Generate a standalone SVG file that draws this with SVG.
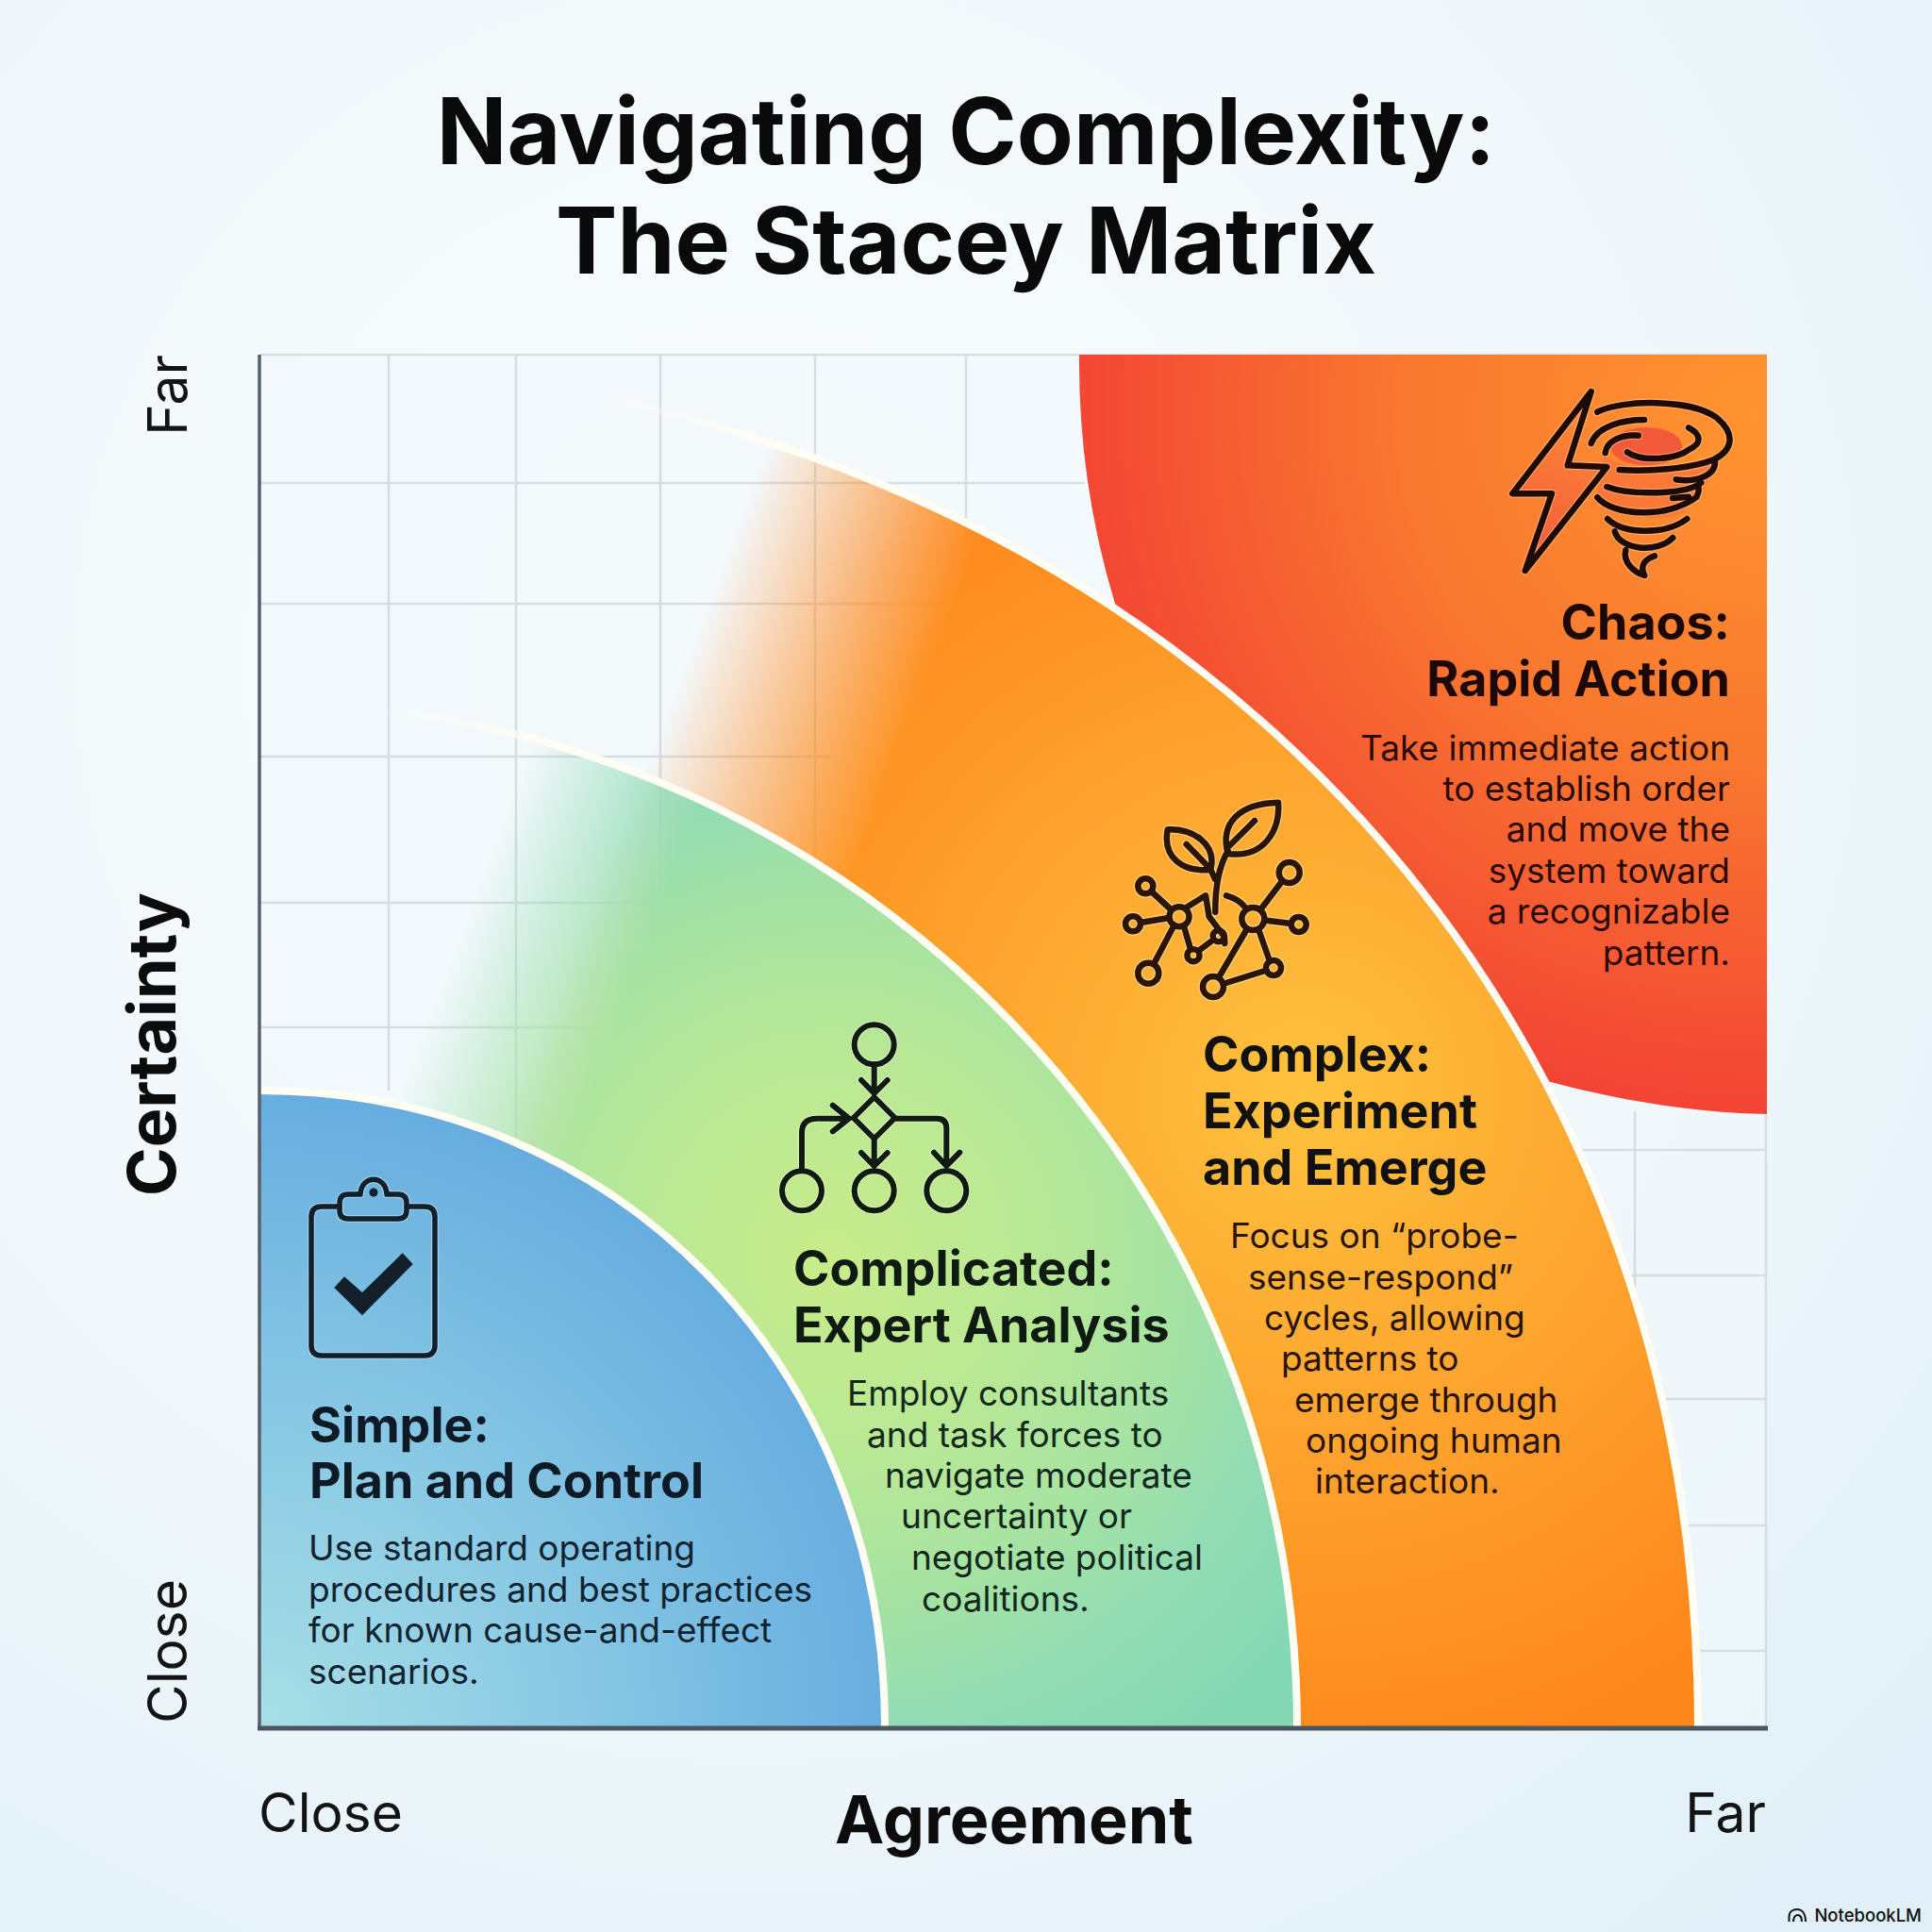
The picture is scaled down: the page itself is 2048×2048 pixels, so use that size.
<svg xmlns="http://www.w3.org/2000/svg" width="2048" height="2048" viewBox="0 0 2048 2048">
<style>
text{font-family:Inter,"Liberation Sans",sans-serif}
.title{font-size:98px;font-weight:700;fill:#0a0a0a;text-anchor:middle}
.axb{font-size:70px;font-weight:700;fill:#0c0c0c}
.axr{font-size:57px;font-weight:400;fill:#141414}
.h{font-size:52px;font-weight:700}
.b{font-size:37px;font-weight:400}
.grid{stroke:#d6dde4;stroke-width:2.5;fill:none}
.ic{fill:none;stroke-linecap:round;stroke-linejoin:round}
</style>
<defs>
<radialGradient id="bg" gradientUnits="userSpaceOnUse" cx="800" cy="700" r="1750"><stop offset="0" stop-color="#f9fcfd"/><stop offset=".55" stop-color="#f1f8fb"/><stop offset="1" stop-color="#e0eff8"/></radialGradient>
<radialGradient id="blue" gradientUnits="userSpaceOnUse" cx="275" cy="1832" r="680"><stop offset="0" stop-color="#a8dfe6"/><stop offset=".5" stop-color="#88c8e4"/><stop offset="1" stop-color="#66acdf"/></radialGradient>
<radialGradient id="green" gradientUnits="userSpaceOnUse" cx="880" cy="1330" r="640"><stop offset="0" stop-color="#c8ec8a"/><stop offset=".35" stop-color="#b8e896"/><stop offset=".6" stop-color="#a4e2a4"/><stop offset=".78" stop-color="#92dcb4"/><stop offset="1" stop-color="#84d8b4"/></radialGradient>
<radialGradient id="orange" gradientUnits="userSpaceOnUse" cx="1380" cy="1160" r="720"><stop offset="0" stop-color="#fdc23e"/><stop offset=".45" stop-color="#fea730"/><stop offset="1" stop-color="#fe871c"/></radialGradient>
<radialGradient id="red" gradientUnits="userSpaceOnUse" cx="1860" cy="440" r="740"><stop offset="0" stop-color="#ff9430"/><stop offset=".5" stop-color="#f9782f"/><stop offset="1" stop-color="#f34335"/></radialGradient>
<linearGradient id="fo" gradientUnits="userSpaceOnUse" x1="805" y1="492" x2="1035" y2="579"><stop offset="0" stop-color="#fff" stop-opacity="0"/><stop offset="1" stop-color="#fff"/></linearGradient>
<linearGradient id="fg" gradientUnits="userSpaceOnUse" x1="553" y1="819" x2="728" y2="885"><stop offset="0" stop-color="#fff" stop-opacity="0"/><stop offset="1" stop-color="#fff"/></linearGradient>
<linearGradient id="so" gradientUnits="userSpaceOnUse" x1="640" y1="0" x2="820" y2="0"><stop offset="0" stop-color="#fffdf4" stop-opacity="0"/><stop offset="1" stop-color="#fffdf4"/></linearGradient>
<linearGradient id="sg" gradientUnits="userSpaceOnUse" x1="400" y1="0" x2="600" y2="0"><stop offset="0" stop-color="#fffdf4" stop-opacity="0"/><stop offset="1" stop-color="#fffdf4"/></linearGradient>
<linearGradient id="bolt" gradientUnits="userSpaceOnUse" x1="1680" y1="450" x2="1625" y2="590"><stop offset="0" stop-color="#fb8636"/><stop offset="1" stop-color="#f4593a"/></linearGradient>
<mask id="mo" maskUnits="userSpaceOnUse" x="0" y="0" width="2048" height="2048"><rect width="2048" height="2048" fill="url(#fo)"/></mask>
<mask id="mg" maskUnits="userSpaceOnUse" x="0" y="0" width="2048" height="2048"><rect width="2048" height="2048" fill="url(#fg)"/></mask>
<g id="s-clip"><path d="M360,1279 H341 Q330,1279 330,1290 V1426 Q330,1437 341,1437 H450 Q461,1437 461,1426 V1290 Q461,1279 450,1279 H431"/><path d="M369,1266 H382 C383,1245 409,1245 410,1266 H422 Q431,1266 431,1275 V1283 Q431,1292 422,1292 H369 Q360,1292 360,1283 V1275 Q360,1266 369,1266 Z"/></g>
<g id="s-flow"><circle cx="926.7" cy="1107.3" r="21"/><path d="M926.7,1128 V1159 M913,1145 L926.7,1159 L940.7,1145"/><path d="M926.7,1163 L948.7,1185 L926.7,1207 L904.7,1185 Z"/><circle cx="850" cy="1262.3" r="21"/><path d="M850,1241 V1201 Q850,1185.7 866,1185.7 H900 M882.7,1171.7 L900,1185.7 L882.7,1199.3"/><circle cx="926.7" cy="1262.3" r="21"/><path d="M926.7,1207 V1236 M913,1222 L926.7,1236 L940.7,1222"/><circle cx="1003.3" cy="1262.3" r="21"/><path d="M949,1185.7 H993 Q1003.3,1185.7 1003.3,1196 V1236 M990,1221.7 L1003.3,1236 L1017.3,1221.7"/></g>
<g id="s-plant"><path d="M1301.7,905 C1293,873 1313,851.7 1355,850.7 C1357,880 1340,910 1301.7,905 Z"/><path d="M1330,870 L1301.7,898 M1301.7,902 Q1288,925 1288.3,966.7"/><path d="M1237.7,879.3 C1265,878 1290,895 1283.3,921.7 C1255,925 1232,910 1237.7,879.3 Z"/><path d="M1257.7,895 L1283,921 L1288,932"/>
<circle cx="1250" cy="971.7" r="10.5"/><circle cx="1214.3" cy="939.3" r="8"/><circle cx="1201" cy="979.3" r="8"/><circle cx="1217.3" cy="1031.7" r="11"/><circle cx="1265" cy="1012.7" r="6.5"/><circle cx="1291.7" cy="992.3" r="6"/>
<path d="M1240,963 L1220.5,945 M1239,973 L1209,978 M1244,982 L1223,1022 M1255,982 L1262,1006 M1270.5,1008 L1286.5,996 M1258,961.7 L1278,949.3 L1281.7,971.7 L1298,993 L1298.3,1000"/>
<circle cx="1328.3" cy="974" r="12"/><circle cx="1366.7" cy="925" r="11"/><circle cx="1376.7" cy="980" r="8"/><circle cx="1350" cy="1026" r="8"/><circle cx="1286" cy="1046" r="11"/>
<path d="M1336,964.5 L1359.5,933.5 M1340.5,975.5 L1368.5,979 M1334,985 L1346,1019 M1322,984.5 L1292,1036 M1296.5,1043 L1342.5,1028.5 M1300,949.3 Q1313,953 1320,961.7"/></g>
<g id="s-storm"><path d="M1686.7,415 L1603.3,523.3 L1645,523.3 L1616.7,605 L1703.3,495 L1661.7,493.3 Z"/>
<path d="M1693.3,436.7 C1720,423 1793,423 1820,443 C1840,460 1837,477 1817,487 C1793,497 1747,500 1716.7,498"/>
<path d="M1818,490 C1818,503 1800,512 1776.7,508.3"/>
<path d="M1686.7,470 C1693,452 1720,445 1743,445"/>
<path d="M1701.7,480 C1703,467 1720,460 1736.7,461.7"/>
<path d="M1790,453.3 C1803,460 1805,470 1790,476.7 C1777,487 1740,490 1725,479.3"/>
<path d="M1703.3,516 C1727,525 1787,525 1803.3,511.7"/>
<path d="M1693.3,527.3 C1710,547 1767,550 1798.3,527 Q1802,520 1800,515"/>
<path d="M1773,528 L1790,526.7"/>
<path d="M1704,550 C1720,567 1767,567 1788.3,550"/>
<path d="M1711.7,563.3 C1717,583 1757,587 1773.3,570"/>
<path d="M1723.3,583 C1720,597 1733,607 1743.3,610 C1738,600 1743,593 1754,589.3"/></g>
</defs>

<rect width="2048" height="2048" fill="url(#bg)"/>

<g id="grid">
<rect x="275" y="376" width="1597" height="1456" fill="#f2f9fc" fill-opacity=".6"/>
<path class="grid" d="M275,376 H1872 V1832 M412,376 V1156 M547,376 V1210 M700,376 V1000 M864,376 V1000 M1024,376 V760 M1733,1178 V1379"/>
<path class="grid" d="M275,512 H1150 M275,640 H1180 M275,802 H880 M275,957 H720 M275,1089 H640 M1640,1219 H1872 M1700,1352 H1872 M1750,1483 H1872 M1780,1617 H1872 M1790,1750 H1872"/>
</g>

<g id="chaos-region"><path d="M1144,376 H1873 V1181 C1790,1179 1710,1165 1640,1146 C1450,1000 1300,800 1182,640 A729,805 0 0 1 1144,376 Z" fill="url(#red)"/></g>
<g id="complex-region">
<path mask="url(#mo)" fill="url(#orange)" d="M275,385 C1114,385 1800,950 1800,1832 H275 Z"/>
<path d="M275,385 C1114,385 1800,950 1800,1832" fill="none" stroke="url(#so)" stroke-width="8"/>
</g>
<g id="complicated-region">
<path mask="url(#mg)" fill="url(#green)" d="M275,745 C880,745 1375,1231 1375,1832 H275 Z"/>
<path d="M275,745 C880,745 1375,1231 1375,1832" fill="none" stroke="url(#sg)" stroke-width="8"/>
</g>
<g id="simple-region"><path d="M275,1156 C653,1156 938,1447 938,1832 H275 Z" fill="url(#blue)"/><path d="M275,1156 C653,1156 938,1447 938,1832" fill="none" stroke="#fffdf4" stroke-width="8"/></g>

<g id="axes"><path d="M275,376 V1832" stroke="#56616c" stroke-width="3.5" fill="none"/><path d="M273,1832 H1874" stroke="#4a5560" stroke-width="5" fill="none"/></g>

<g id="node-chaos">
<ellipse cx="1745" cy="473" rx="38" ry="20" fill="#f25a3a"/>
<path d="M1700,485 C1740,502 1790,500 1815,490 C1815,505 1800,540 1770,548 C1740,552 1710,540 1693,527 Z" fill="#f9703a" opacity=".7"/>
<path d="M1686.7,415 L1603.3,523.3 L1645,523.3 L1616.7,605 L1703.3,495 L1661.7,493.3 Z" fill="url(#bolt)"/>
<use href="#s-storm" class="ic" stroke="#ffd9a8" stroke-opacity=".45" stroke-width="9"/>
<use href="#s-storm" class="ic" stroke="#1e0b06" stroke-width="6.5"/>
<g fill="#1c0906"><text class="h" x="1834" y="678" text-anchor="end">Chaos:</text><text class="h" x="1834" y="738" text-anchor="end">Rapid Action</text></g>
<g fill="#2a0b06" text-anchor="end"><text class="b" x="1834" y="806">Take immediate action</text><text class="b" x="1834" y="849">to establish order</text><text class="b" x="1834" y="892">and move the</text><text class="b" x="1834" y="936">system toward</text><text class="b" x="1834" y="979">a recognizable</text><text class="b" x="1834" y="1023">pattern.</text></g>
</g>

<g id="node-complex">
<use href="#s-plant" class="ic" stroke="#fff0cc" stroke-opacity=".5" stroke-width="9"/>
<use href="#s-plant" class="ic" stroke="#2a1508" stroke-width="6.5"/>
<g fill="#111"><text class="h" x="1275" y="1136">Complex:</text><text class="h" x="1275" y="1196">Experiment</text><text class="h" x="1275" y="1256">and Emerge</text></g>
<g fill="#2a1408"><text class="b" x="1304" y="1323">Focus on “probe-</text><text class="b" x="1323" y="1367">sense-respond”</text><text class="b" x="1340" y="1410">cycles, allowing</text><text class="b" x="1358" y="1453">patterns to</text><text class="b" x="1372" y="1497">emerge through</text><text class="b" x="1384" y="1540">ongoing human</text><text class="b" x="1394" y="1583">interaction.</text></g>
</g>

<g id="node-complicated">
<use href="#s-flow" class="ic" stroke="#f4fbd8" stroke-opacity=".6" stroke-width="8"/>
<use href="#s-flow" class="ic" stroke="#0e1a12" stroke-width="6"/>
<g fill="#0e1a12"><text class="h" x="841" y="1363">Complicated:</text><text class="h" x="841" y="1423">Expert Analysis</text></g>
<g fill="#13281c"><text class="b" x="898" y="1490">Employ consultants</text><text class="b" x="919" y="1534">and task forces to</text><text class="b" x="938" y="1577">navigate moderate</text><text class="b" x="955" y="1620">uncertainty or</text><text class="b" x="966" y="1664">negotiate political</text><text class="b" x="977" y="1708">coalitions.</text></g>
</g>

<g id="node-simple">
<use href="#s-clip" class="ic" stroke="#c8e8f2" stroke-opacity=".5" stroke-width="8"/>
<use href="#s-clip" class="ic" stroke="#13202c" stroke-width="5.5"/>
<circle cx="396" cy="1264" r="4.5" fill="#13202c"/>
<path d="M354.3,1365 L365,1353.3 L384,1370 L426.7,1328.3 L437.7,1340 L384,1394.3 Z" fill="#13202c"/>
<g fill="#0e1a26"><text class="h" x="328" y="1529">Simple:</text><text class="h" x="328" y="1588">Plan and Control</text></g>
<g fill="#10232f"><text class="b" x="327" y="1654">Use standard operating</text><text class="b" x="327" y="1698">procedures and best practices</text><text class="b" x="327" y="1741">for known cause-and-effect</text><text class="b" x="327" y="1785">scenarios.</text></g>
</g>

<g id="title"><text class="title" x="1024" y="174">Navigating Complexity:</text><text class="title" x="1024" y="290">The Stacey Matrix</text></g>

<g id="axis-labels">
<text class="axr" x="274" y="1942">Close</text>
<text class="axb" x="1075" y="1954" text-anchor="middle">Agreement</text>
<text class="axr" x="1872" y="1942" text-anchor="end">Far</text>
<text class="axr" transform="translate(198,376) rotate(-90)" text-anchor="end">Far</text>
<text class="axb" transform="translate(186,1107) rotate(-90)" text-anchor="middle">Certainty</text>
<text class="axr" transform="translate(198,1827) rotate(-90)">Close</text>
</g>

<g id="watermark"><path d="M1896.500,2037 V2032 C1896.500,2026 1901,2024 1905,2024 C1910,2024 1914,2028 1914,2037 M1901,2037 C1901,2032 1904,2029.500 1906,2030 C1909,2030.500 1910,2033 1910,2037" fill="none" stroke="#111" stroke-width="2"/><text x="2037" y="2037" text-anchor="end" font-size="18.500" font-weight="500" fill="#111">NotebookLM</text></g>
</svg>
